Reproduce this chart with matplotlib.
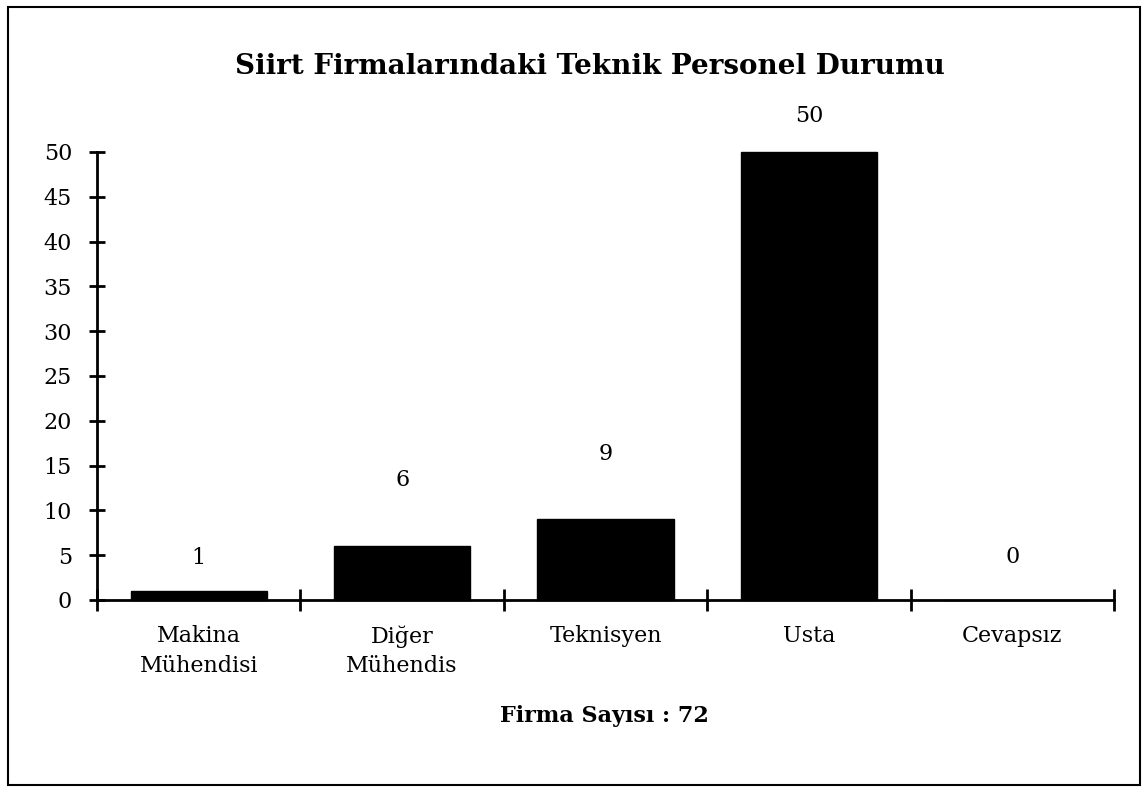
import matplotlib
matplotlib.use("Agg")
import matplotlib.pyplot as plt
from matplotlib.patches import Rectangle
from matplotlib.ticker import FixedLocator

# Data
categories = ["Makina\nMühendisi", "Diğer\nMühendis", "Teknisyen", "Usta", "Cevapsız"]
counts = [1, 6, 9, 50, 0]
y_ticks = [0, 5, 10, 15, 20, 25, 30, 35, 40, 45, 50]
title = "Siirt Firmalarındaki Teknik Personel Durumu"
note = "Firma Sayısı : 72"

# Vertical gap (points) between each bar top and its value label
label_gap = [24, 48, 47, 26, 31]

plt.rcParams["font.family"] = ["DejaVu Serif"]

fig = plt.figure(figsize=(11.46, 7.93), dpi=100)
fig.patch.set_facecolor("white")

# Frame around the whole chart
fig.patches.append(Rectangle((8 / 1146, 8 / 793), 1132 / 1146, 778 / 793,
                             transform=fig.transFigure, fill=False,
                             edgecolor="black", linewidth=1.5))

ax = fig.add_axes([97 / 1146, 1 - 600 / 793, (1114 - 97) / 1146, (600 - 152) / 793])
x = list(range(len(categories)))
ax.bar(x, counts, width=0.67, color="black", edgecolor="black", clip_on=False)

ax.set_xlim(-0.5, len(categories) - 0.5)
ax.set_ylim(0, 50)

for s in ("top", "right"):
    ax.spines[s].set_visible(False)
for s in ("left", "bottom"):
    ax.spines[s].set_linewidth(2.0)

ax.set_yticks(y_ticks)
ax.set_yticklabels([str(v) for v in y_ticks], fontsize=16)
ax.tick_params(axis="y", direction="inout", length=12, width=2.0, pad=12)

ax.set_xticks(x)
ax.set_xticklabels(categories, fontsize=16, linespacing=1.45, va="top")
ax.tick_params(axis="x", which="major", length=0, pad=18)
ax.xaxis.set_minor_locator(FixedLocator([i - 0.5 for i in range(len(categories) + 1)]))
ax.tick_params(axis="x", which="minor", direction="inout", length=16, width=2.0)

for i, (v, g) in enumerate(zip(counts, label_gap)):
    ax.annotate(str(v), (i, v), xytext=(0, g), textcoords="offset points",
                ha="center", va="center", fontsize=16, annotation_clip=False)

fig.text(590 / 1146, 1 - 67 / 793, title, ha="center", va="center",
         fontsize=20, fontweight="heavy")
fig.text(604 / 1146, 1 - 716 / 793, note, ha="center", va="center",
         fontsize=16, fontweight="heavy")

fig.savefig("out.png", dpi=100, facecolor="white")
